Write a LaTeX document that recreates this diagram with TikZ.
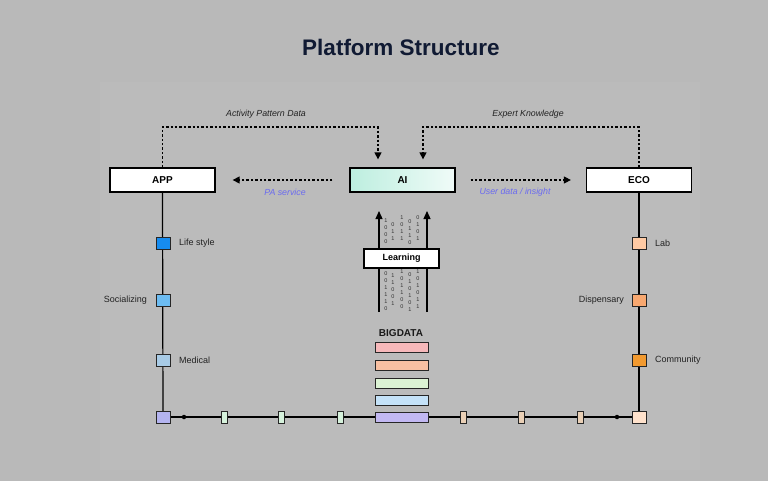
\documentclass[tikz,border=0pt]{standalone}
\usepackage{fontspec}
\setmainfont{Liberation Sans}
\usetikzlibrary{arrows.meta}
\definecolor{bgA}{HTML}{B9B9B9}
\definecolor{bgB}{HTML}{BBBBBB}
\definecolor{titlec}{HTML}{101A33}
\definecolor{bluelab}{HTML}{6A6AF0}
\definecolor{txt}{HTML}{222222}
\definecolor{aiL}{HTML}{BDEEDF}
\definecolor{aiR}{HTML}{F0FBF8}
\pgfdeclarelayer{back}
\pgfdeclarelayer{lines}
\pgfsetlayers{back,lines,main}
\begin{document}
\begin{tikzpicture}[x=1pt,y=-1pt,
  mainbox/.style={draw=black, line width=1.3pt, fill=white, minimum width=105pt, minimum height=24pt, inner sep=0pt, font=\bfseries\fontsize{10}{11}\selectfont},
  sq/.style={draw=black!85, line width=1pt, minimum width=14pt, minimum height=12pt, inner sep=0pt},
  tick/.style={draw=black!85, line width=0.9pt, minimum width=6pt, minimum height=12pt, inner sep=0pt},
  bar/.style={draw=black!85, line width=1pt, minimum width=53pt, minimum height=10pt, inner sep=0pt},
  lbl/.style={text=txt, font=\fontsize{9}{10}\selectfont, inner sep=0pt},
  dotarrow/.style={line width=1.4pt, dash pattern=on 2.4pt off 2pt, -{Triangle[length=7pt,width=7pt]}},
  flowlbl/.style={font=\itshape\fontsize{8.8}{10}\selectfont, inner sep=0pt},
  dig/.style={text=black!80, font=\fontsize{5.5}{7}\selectfont, align=center, inner sep=0pt, anchor=north},
  dotn/.style={circle, fill=black, inner sep=0pt, minimum size=4.5pt}
]
\begin{pgfonlayer}{back}
\fill[bgA] (0,0) rectangle (768,481);
\fill[bgB] (100,82) rectangle (700,470);
\end{pgfonlayer}
\useasboundingbox (0,0) rectangle (768,481);

% title
\node[text=titlec, font=\bfseries\fontsize{22.5}{26}\selectfont] (title) at (401,47) {Platform Structure};

% main boxes
\node[mainbox] (app) at (162.5,180) {APP};
\node[mainbox, left color=aiL, right color=aiR] (ai) at (402.5,180) {AI};
\node[mainbox] (eco) at (639,180) {ECO};

% dotted feedback lines
\coordinate (topy) at (0,127);
\coordinate (aiin1) at ([xshift=-24.5pt,yshift=8pt]ai.north);
\coordinate (aiin2) at ([xshift=20.5pt,yshift=8pt]ai.north);
\draw[dotarrow] (app.north) -- (app.north |- topy) -| (aiin1);
\draw[dotarrow] (eco.north) -- (eco.north |- topy) -| (aiin2);
\node[flowlbl, text=txt] (apd) at (266,114) {Activity Pattern Data};
\node[flowlbl, text=txt] (ek) at (528,114) {Expert Knowledge};

\draw[dotarrow] ([xshift=-17pt]ai.west) -- ([xshift=17pt]app.east);
\draw[dotarrow] ([xshift=15pt]ai.east) -- ([xshift=-15pt]eco.west);
\node[flowlbl, text=bluelab] (pas) at (285,192) {PA service};
\node[flowlbl, text=bluelab] (udi) at (515,192) {User data / insight};

% left column
\node[sq, fill={rgb,255:red,22;green,140;blue,240}] (ls) at (163,243) {};
\node[sq, fill={rgb,255:red,108;green,188;blue,242}] (so) at (163,300) {};
\node[sq, fill={rgb,255:red,168;green,203;blue,230}] (me) at (163,360) {};
\node[sq, fill={rgb,255:red,180;green,180;blue,240}] (bl) at (163,417) {};
\node[lbl, anchor=west] (lsl) at (179,243) {Life style};
\node[lbl, anchor=east] (sol) at (147,300) {Socializing};
\node[lbl, anchor=west] (mel) at (179,360) {Medical};

% right column
\node[sq, fill={rgb,255:red,255;green,202;blue,164}] (lab) at (639,243) {};
\node[sq, fill={rgb,255:red,248;green,168;blue,112}] (dis) at (639,300) {};
\node[sq, fill={rgb,255:red,242;green,154;blue,48}] (com) at (639,360) {};
\node[sq, fill={rgb,255:red,255;green,226;blue,204}] (br) at (639,417) {};
\node[lbl, anchor=west] (labl) at (655,243) {Lab};
\node[lbl, anchor=east] (disl) at (624,300) {Dispensary};
\node[lbl, anchor=west] (coml) at (655,360) {Community};

% bottom line elements
\node[dotn] (d1) at (184,417) {};
\node[dotn] (d2) at (617,417) {};
\node[tick, fill={rgb,255:red,214;green,242;blue,220}] (g1) at (224,417) {};
\node[tick, fill={rgb,255:red,214;green,242;blue,220}] (g2) at (281,417) {};
\node[tick, fill={rgb,255:red,214;green,242;blue,220}] (g3) at (340,417) {};
\node[tick, fill={rgb,255:red,234;green,208;blue,182}] (t1) at (463,417) {};
\node[tick, fill={rgb,255:red,234;green,208;blue,182}] (t2) at (521,417) {};
\node[tick, fill={rgb,255:red,234;green,208;blue,182}] (t3) at (580,417) {};

% bigdata
\node[font=\bfseries\fontsize{10}{11}\selectfont, text=black!90] (bd) at (401,333) {BIGDATA};
\node[bar, fill={rgb,255:red,246;green,184;blue,186}] (b1) at (401.5,347) {};
\node[bar, fill={rgb,255:red,248;green,192;blue,162}] (b2) at (401.5,365) {};
\node[bar, fill={rgb,255:red,220;green,243;blue,212}] (b3) at (401.5,383) {};
\node[bar, fill={rgb,255:red,196;green,226;blue,248}] (b4) at (401.5,400) {};
\node[bar, fill={rgb,255:red,194;green,184;blue,242}] (b5) at (401.5,417) {};

% learning
\node[draw=black, line width=1.2pt, fill=white, minimum width=75pt, minimum height=19pt, inner sep=0pt, font=\bfseries\fontsize{9}{10}\selectfont] (learn) at (401.5,258.5) {Learning};
\coordinate (ua1) at (379,312);
\coordinate (ua2) at (379,211);
\coordinate (ub1) at (427,312);
\coordinate (ub2) at (427,211);

\begin{pgfonlayer}{lines}
\draw[line width=1.2pt] (app.south) -- (bl.center);
\draw[line width=1.2pt] (eco.south) -- (br.center);
\draw[line width=1.2pt] (bl.center) -- (br.center);
\draw[line width=1.2pt, -{Triangle[length=8pt,width=7pt]}] (ua1) -- (ua2);
\draw[line width=1.2pt, -{Triangle[length=8pt,width=7pt]}] (ub1) -- (ub2);
% digits above the Learning box
\node[dig] (c1a) at (386,219) {1\\0\\0\\0};
\node[dig] (c2a) at (393,222) {0\\1\\1};
\node[dig] (c3a) at (402,216) {1\\0\\1\\1};
\node[dig] (c4a) at (410,219) {0\\1\\1\\0};
\node[dig] (c5a) at (418,215) {0\\1\\0\\1};
% digits below the Learning box
\node[dig] (c1b) at (386,271) {0\\0\\1\\1\\1\\0};
\node[dig] (c2b) at (393,274) {1\\1\\0\\0\\1};
\node[dig] (c3b) at (402,270) {1\\0\\1\\1\\0\\0};
\node[dig] (c4b) at (410,272) {0\\1\\0\\1\\0\\1};
\node[dig] (c5b) at (418,270) {1\\0\\1\\0\\1\\1};
\end{pgfonlayer}
\end{tikzpicture}
\end{document}
